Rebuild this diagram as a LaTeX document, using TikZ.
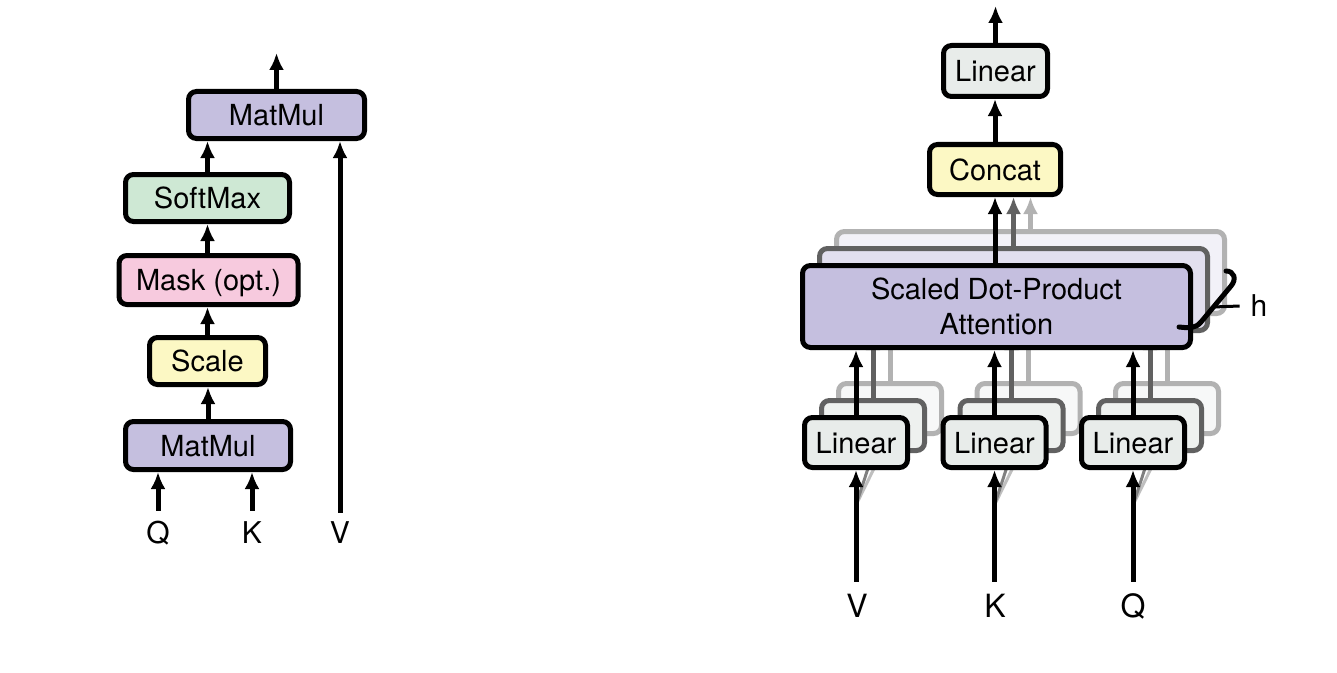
\documentclass[tikz,border=0pt]{standalone}
\usepackage{fontspec}
\setmainfont{TeX Gyre Heros}
\usetikzlibrary{arrows.meta}
\definecolor{lav}{RGB}{197,191,223}
\definecolor{mint}{RGB}{206,232,212}
\definecolor{pinkc}{RGB}{247,202,222}
\definecolor{yel}{RGB}{252,248,196}
\definecolor{lgray}{RGB}{232,236,234}
\begin{document}
\begin{tikzpicture}[x=1bp,y=-1bp,
  box/.style={draw=black,line width=5bp,rounded corners=8bp,inner sep=0pt,
    font=\fontsize{29bp}{35bp}\selectfont,text height=21bp,text depth=0bp},
  sdpabox/.style={draw=black,line width=5bp,rounded corners=8bp,inner sep=0pt,
    font=\fontsize{29bp}{35bp}\selectfont,align=center,minimum width=388bp,minimum height=82bp},
  linbox/.style={box,fill=lgray,minimum width=103bp,minimum height=50bp},
  copytwo/.style={draw=black!62},
  copythree/.style={draw=black!30},
  arr/.style={line width=5bp,-{Latex[length=17bp,width=15bp]}},
  lab/.style={inner sep=0pt,font=\fontsize{30bp}{36bp}\selectfont,text height=21bp,text depth=0bp,outer ysep=12bp},
  rlab/.style={lab,font=\fontsize{32bp}{38bp}\selectfont,text height=23bp,outer ysep=13bp},
  shade/.style={line width=3bp}]
\useasboundingbox[fill=white] (0,0) rectangle (1337,672);

% ---------------- left: scaled dot-product attention
\node[box,fill=lav,minimum width=176bp,minimum height=47bp] (mm2) at (276.5,115) {MatMul};
\node[box,fill=mint,minimum width=164bp,minimum height=47bp] (sm) at (207.5,198) {SoftMax};
\node[box,fill=pinkc,minimum width=179bp,minimum height=49bp] (mask) at (208.5,280) {Mask (opt.)};
\node[box,fill=yel,minimum width=116bp,minimum height=47bp] (scale) at (207.5,361) {Scale};
\node[box,fill=lav,minimum width=165bp,minimum height=48bp] (mm1) at (208,445.5) {MatMul};
\node[lab] (lq) at (158,533) {Q};
\node[lab] (lk) at (252,533) {K};
\node[lab,outer ysep=10bp] (lv) at (340,533) {V};
\coordinate (out1) at (276.5,53);

\draw[arr] (lq.north) -- (lq.north |- mm1.south);
\draw[arr] (lk.north) -- (lk.north |- mm1.south);
\draw[arr] (lv.north) -- (lv.north |- mm2.south);
\draw[arr] (mm1.north) -- (mm1.north |- scale.south);
\draw[arr] (scale.north) -- (scale.north |- mask.south);
\draw[arr] (mask.north -| sm.south) -- (sm.south);
\draw[arr] (sm.north) -- (sm.north |- mm2.south);
\draw[arr] (mm2.north) -- (out1);

% ---------------- right: multi-head attention
\node[box,fill=lgray,minimum width=104bp,minimum height=51bp] (lt) at (995.5,71) {Linear};
\node[box,fill=yel,minimum width=131bp,minimum height=50bp] (cc) at (995,169.5) {Concat};
\coordinate (out2) at (995.5,6);

% back copies of attention
\node[sdpabox,copythree,fill=lav!22!white] (sd3) at (1030.5,272.5) {};
\node[sdpabox,copytwo,fill=lav!50!white] (sd2) at (1013.5,289.5) {};
\draw[arr,black!30] (sd3.north) -- (sd3.north |- cc.south);
\draw[arr,black!62] (sd2.north) -- (sd2.north |- cc.south);

% linear stacks
\foreach \n/\cx in {v/856,k/994.5,q/1133}{
  \node[linbox,copythree,fill=lgray!35!white] (lin\n3) at (\cx+34,408.5) {};
  \node[linbox,copytwo,fill=lgray!75!white] (lin\n2) at (\cx+17,425.5) {};
  \draw[arr,black!30] (lin\n3.north) -- (lin\n3.north |- sd3.south);
  \draw[arr,black!62] (lin\n2.north) -- (lin\n2.north |- sd2.south);
  \coordinate (split\n) at (\cx,505);
  \draw[shade,black!25] (split\n) -- (lin\n3.south);
  \draw[shade,black!50] (split\n) -- (lin\n2.south);
}

\node[sdpabox,fill=lav] (sd) at (996.5,306.5) {Scaled Dot-Product\\Attention};
\node[linbox] (linv) at (856,442.5) {Linear};
\node[linbox] (link) at (994.5,442.5) {Linear};
\node[linbox] (linq) at (1133,442.5) {Linear};

\node[rlab] (rv) at (857,606) {V};
\node[rlab] (rk) at (995,606) {K};
\node[rlab] (rq) at (1133,606) {Q};

\draw[arr] (rv.north -| linv.south) -- (linv.south);
\draw[arr] (rk.north -| link.south) -- (link.south);
\draw[arr] (rq.north) -- (linq.south);
\draw[arr] (linv.north) -- (linv.north |- sd.south);
\draw[arr] (link.north) -- (link.north |- sd.south);
\draw[arr] (linq.north) -- (linq.north |- sd.south);
\draw[arr] (cc.south |- sd.north) -- (cc.south);
\draw[arr] (cc.north) -- (cc.north |- lt.south);
\draw[arr] (lt.north) -- (out2);

% h brace
\coordinate (btop) at (1226,271);
\coordinate (bbot) at (1179,327);
\coordinate (btip) at (1213,307);
\draw[line width=5bp,line cap=round] (btop) .. controls (1234,271) and (1237,279) .. (1231,286)
  -- (1201,322) .. controls (1195,329) and (1189,328) .. (bbot);
\node[lab,outer ysep=0pt,outer xsep=11bp] (hl) at (1259,306) {h};
\draw[line width=3bp] (btip) -- (hl.west);
\end{tikzpicture}
\end{document}
